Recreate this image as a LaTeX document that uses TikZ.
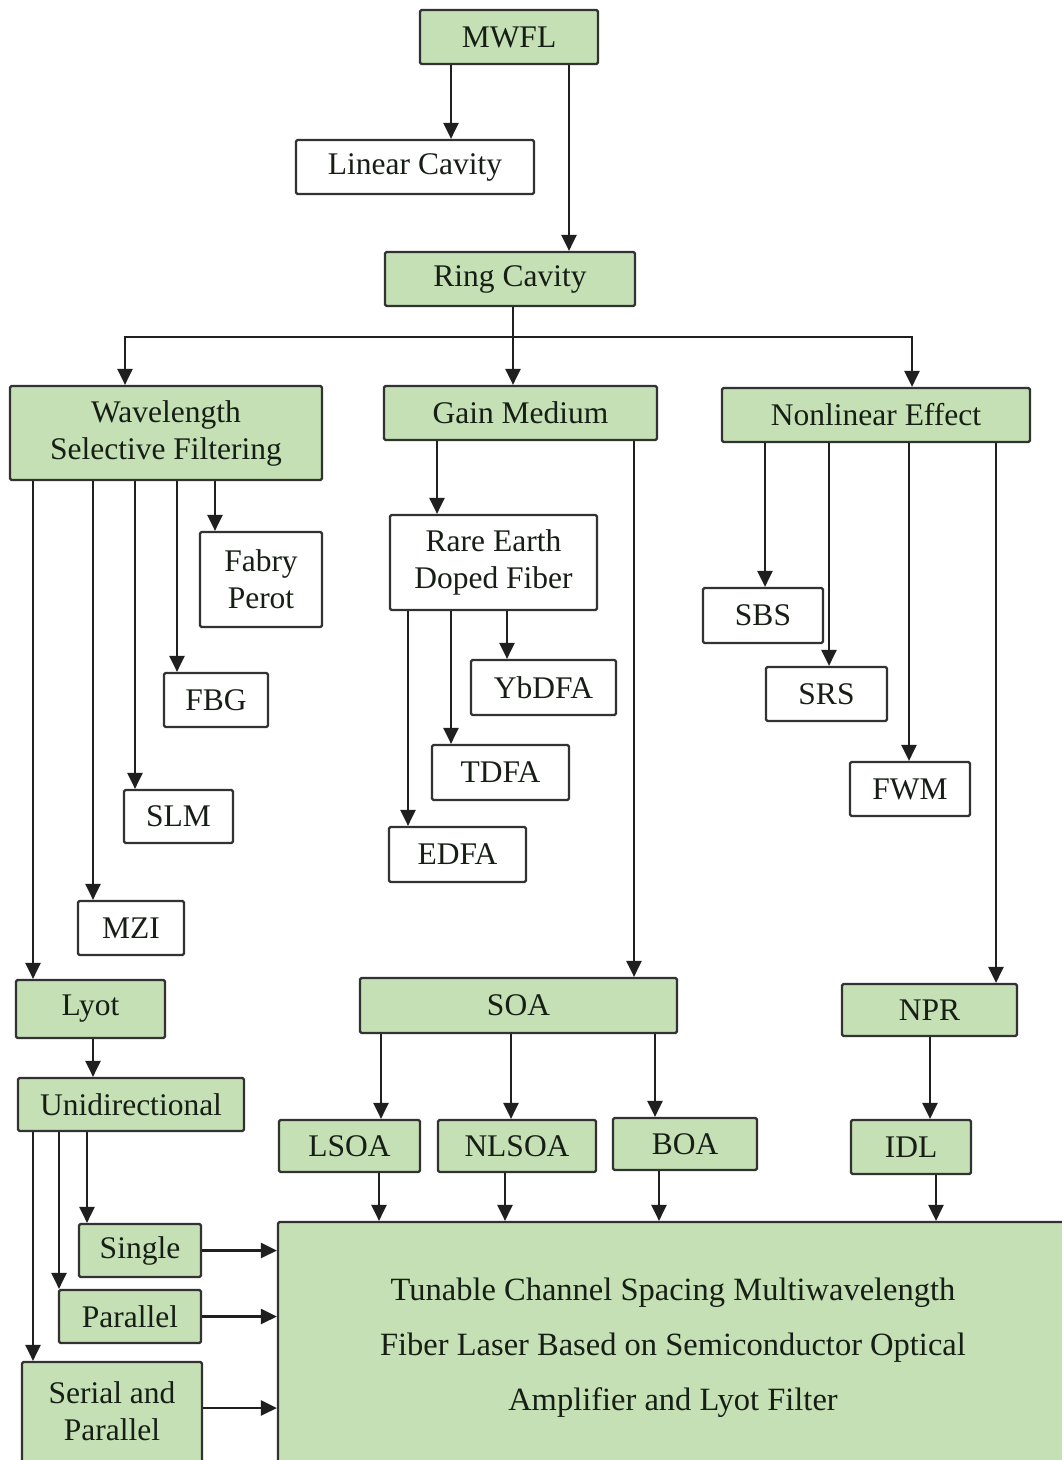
\documentclass[tikz,border=0pt]{standalone}
\usepackage{fontspec}
\setmainfont{Liberation Serif}
\usetikzlibrary{arrows.meta,calc}
\definecolor{gfill}{RGB}{197,224,180}
\definecolor{bord}{RGB}{50,50,50}
\definecolor{txt}{RGB}{22,30,22}
\begin{document}
\begin{tikzpicture}[x=1pt,y=-1pt,
  base/.style={draw=bord,line width=2.2pt,rounded corners=1.5pt,inner sep=0pt,align=center,
    text=txt,font=\fontsize{31.5}{37}\selectfont},
  gbox/.style={base,fill=gfill},
  wbox/.style={base,fill=white},
  arr/.style={draw=black!88,line width=2.6pt,-{Triangle[length=16pt,width=15pt]}}]
\useasboundingbox (0,0) rectangle (1062,1460);
\fill[white] (0,0) rectangle (1062,1460);
% nodes
\node[gbox,minimum width=178,minimum height=54] (MWFL) at (509,37) {MWFL};
\node[wbox,minimum width=238,minimum height=54] (LinCav) at (415,167) {Linear Cavity};
\node[gbox,minimum width=250,minimum height=54] (Ring) at (510,279) {Ring Cavity};
\node[gbox,minimum width=312,minimum height=94] (WSF) at (166,433) {Wavelength\\Selective Filtering};
\node[gbox,minimum width=273,minimum height=54] (Gain) at (520.5,413) {Gain Medium};
\node[gbox,minimum width=308,minimum height=54] (NE) at (876,415) {Nonlinear Effect};
\node[wbox,minimum width=122,minimum height=95] (Fabry) at (261,579.5) {Fabry\\Perot};
\node[wbox,minimum width=104,minimum height=54] (FBG) at (216,700) {FBG};
\node[wbox,minimum width=109,minimum height=53] (SLM) at (178.5,816.5) {SLM};
\node[wbox,minimum width=106,minimum height=54] (MZI) at (131,928) {MZI};
\node[gbox,minimum width=149,minimum height=58] (Lyot) at (90.5,1009) {Lyot};
\node[gbox,minimum width=226,minimum height=53] (Uni) at (131,1104.5) {Unidirectional};
\node[gbox,minimum width=122,minimum height=53] (Single) at (140,1250.5) {Single};
\node[gbox,minimum width=142,minimum height=53] (Parallel) at (130,1316.5) {Parallel};
\node[gbox,minimum width=180,minimum height=110] (Serial) at (112,1417) {};
\node[text=txt,font=\fontsize{31.5}{37}\selectfont,align=center] (SerialT) at (112,1411) {Serial and\\Parallel};
\node[gbox,minimum width=792,minimum height=260] (Big) at (674,1352) {};
\node[text=txt,font=\fontsize{32.5}{55}\selectfont,align=center] (BigT) at (673,1348)
  {Tunable Channel Spacing Multiwavelength\\Fiber Laser Based on Semiconductor Optical\\Amplifier and Lyot Filter};
\node[wbox,minimum width=207,minimum height=95] (Rare) at (493.5,562.5) {Rare Earth\\Doped Fiber};
\node[wbox,minimum width=145,minimum height=55] (Yb) at (543.5,687.5) {YbDFA};
\node[wbox,minimum width=137,minimum height=55] (TDFA) at (500.5,772.5) {TDFA};
\node[wbox,minimum width=137,minimum height=55] (EDFA) at (457.5,854.5) {EDFA};
\node[gbox,minimum width=317,minimum height=55] (SOA) at (518.5,1005.5) {SOA};
\node[gbox,minimum width=141,minimum height=52] (LSOA) at (349.5,1146) {LSOA};
\node[gbox,minimum width=158,minimum height=52] (NLSOA) at (517,1146) {NLSOA};
\node[gbox,minimum width=144,minimum height=52] (BOA) at (685,1144) {BOA};
\node[wbox,minimum width=120,minimum height=55] (SBS) at (763,615.5) {SBS};
\node[wbox,minimum width=121,minimum height=54] (SRS) at (826.5,694) {SRS};
\node[wbox,minimum width=120,minimum height=54] (FWM) at (910,789) {FWM};
\node[gbox,minimum width=175,minimum height=52] (NPR) at (929.5,1010) {NPR};
\node[gbox,minimum width=120,minimum height=54] (IDL) at (911,1147) {IDL};
% connectors
\draw[arr] ([xshift=-58]MWFL.south) -- ([xshift=36]LinCav.north);
\draw[arr] ([xshift=60]MWFL.south) -- ([xshift=59]Ring.north);
\draw[arr] ([xshift=3]Ring.south) -- ++(0,30) -| ([xshift=-41]WSF.north);
\draw[arr] ([xshift=3]Ring.south) -- ([xshift=-7.5]Gain.north);
\draw[arr] ([xshift=3]Ring.south) -- ++(0,30) -| ([xshift=36]NE.north);
\draw[arr] ([xshift=49]WSF.south) -- ([xshift=-46]Fabry.north);
\draw[arr] ([xshift=11]WSF.south) -- ([xshift=-39]FBG.north);
\draw[arr] ([xshift=-31]WSF.south) -- ([xshift=-43.5]SLM.north);
\draw[arr] ([xshift=-73]WSF.south) -- ([xshift=-38]MZI.north);
\draw[arr] ([xshift=-133]WSF.south) -- ([xshift=-57.5]Lyot.north);
\draw[arr] ([xshift=2.5]Lyot.south) -- ([xshift=-38]Uni.north);
\draw[arr] ([xshift=-44]Uni.south) -- ([xshift=-53]Single.north);
\draw[arr] ([xshift=-72]Uni.south) -- ([xshift=-71]Parallel.north);
\draw[arr] ([xshift=-98]Uni.south) -- ([xshift=-79]Serial.north);
\draw[arr] (Single.east) -- (Single.east -| Big.west);
\draw[arr] (Parallel.east) -- (Parallel.east -| Big.west);
\draw[arr] ([yshift=3]SerialT.east -| Serial.east) -- ([yshift=3]SerialT.east -| Big.west);
\draw[arr] ([xshift=-83.5]Gain.south) -- ([xshift=-56.5]Rare.north);
\draw[arr] ([xshift=113.5]Gain.south) -- ([xshift=115.5]SOA.north);
\draw[arr] ([xshift=13.5]Rare.south) -- ([xshift=-36.5]Yb.north);
\draw[arr] ([xshift=-42.5]Rare.south) -- ([xshift=-49.5]TDFA.north);
\draw[arr] ([xshift=-85.5]Rare.south) -- ([xshift=-49.5]EDFA.north);
\draw[arr] ([xshift=-137.5]SOA.south) -- ([xshift=31.5]LSOA.north);
\draw[arr] ([xshift=-7.5]SOA.south) -- ([xshift=-6]NLSOA.north);
\draw[arr] ([xshift=136.5]SOA.south) -- ([xshift=-30]BOA.north);
\draw[arr] ([xshift=29.5]LSOA.south) -- ([xshift=-295]Big.north);
\draw[arr] ([xshift=-12]NLSOA.south) -- ([xshift=-169]Big.north);
\draw[arr] ([xshift=-26]BOA.south) -- ([xshift=-15]Big.north);
\draw[arr] ([xshift=25]IDL.south) -- ([xshift=262]Big.north);
\draw[arr] ([xshift=-111]NE.south) -- ([xshift=2]SBS.north);
\draw[arr] ([xshift=-47]NE.south) -- ([xshift=2.5]SRS.north);
\draw[arr] ([xshift=33]NE.south) -- ([xshift=-1]FWM.north);
\draw[arr] ([xshift=120]NE.south) -- ([xshift=66.5]NPR.north);
\draw[arr] ([xshift=0.5]NPR.south) -- ([xshift=19]IDL.north);
\end{tikzpicture}
\end{document}
